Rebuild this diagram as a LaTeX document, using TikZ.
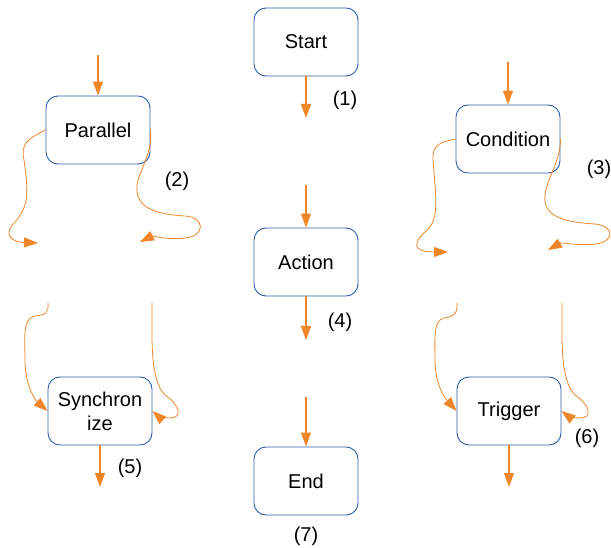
\documentclass[tikz,border=0pt]{standalone}
\usepackage{fontspec}
\setmainfont{Liberation Sans}
\usetikzlibrary{arrows.meta,positioning}
\definecolor{flowor}{RGB}{240,134,42}
\definecolor{boxblue}{RGB}{48,92,168}

\begin{document}
\begin{tikzpicture}[x=1pt,y=-1pt,node distance=1.0cm,on grid,
				block/.style={draw=boxblue, line width=0.9pt, rounded corners=12pt, minimum width=104pt, minimum height=68pt, align=center, font=\fontsize{20}{24}\selectfont},
				num/.style={font=\fontsize{20}{24}\selectfont},
				flow/.style={draw=flowor, line width=1.2pt, -{Triangle[length=14pt,width=10pt]}},
				wiggle/.style={draw=flowor, line width=0.8pt, -{Triangle[length=14pt,width=10pt]}}
			]
			\useasboundingbox (0,0) rectangle (611,548);
			
			\node[block] (start) at (306,42) {Start};
			\node[block] (action) [below=220pt of start] {Action};
			\node[block] (finish) [below=219pt of action] {End};
			
			\node[block] (par) at (98,130) {Parallel};
			\node[block] (sync) [below=281pt of par, xshift=2pt] {Synchron\\ize};
			
			\node[block] (cond) at (508,139) {Condition};
			\node[block] (trig) [below=272pt of cond, xshift=1pt] {Trigger};
			
			% free ends
			\coordinate (start-out) at (306,118);
			\coordinate (action-in) at (306,185);
			\coordinate (action-out) at (306,340);
			\coordinate (finish-in) at (306,397);
			\coordinate (par-in) at (98,55);
			\coordinate (cond-in) at (508,62);
			\coordinate (sync-out) at (100,487);
			\coordinate (trig-out) at (509,487);
			\coordinate (par-l) at (38,243);
			\coordinate (par-r) at (140,242);
			\coordinate (cond-l) at (448,252);
			\coordinate (cond-r) at (548,250);
			\coordinate (sync-l) at (48,303);
			\coordinate (sync-r) at (152,303);
			\coordinate (trig-l) at (457,303);
			\coordinate (trig-r) at (562,303);
			
			\draw[flow] (start.south) -- (start-out);
			\draw[flow] (action-in) -- (action.north);
			\draw[flow] (action.south) -- (action-out);
			\draw[flow] (finish-in) -- (finish.north);
			\draw[flow] (par-in) -- (par.north);
			\draw[flow] (cond-in) -- (cond.north);
			\draw[flow] (sync.south) -- (sync-out);
			\draw[flow] (trig.south) -- (trig-out);
			
			\draw[wiggle] (par.west) .. controls (30,138) and (20,142) .. (24,160) .. controls (28,190) and (30,205) .. (15,222) .. controls (2,235) and (12,242) .. (par-l);
			\draw[wiggle] (par.east) .. controls (152,150) and (145,160) .. (138,180) .. controls (132,205) and (150,214) .. (185,216) .. controls (205,217) and (206,236) .. (185,238) .. controls (168,240) and (152,236) .. (par-r);
			
			\draw[wiggle] (cond.west) .. controls (440,142) and (432,145) .. (433,160) .. controls (436,200) and (440,220) .. (425,232) .. controls (408,248) and (420,252) .. (cond-l);
			\draw[wiggle] (cond.east) .. controls (561,160) and (548,175) .. (545,195) .. controls (543,215) and (560,222) .. (595,224) .. controls (615,226) and (615,242) .. (595,244) .. controls (575,246) and (562,242) .. (cond-r);
			
			\draw[wiggle] (sync-l) .. controls (49,313) and (45,315) .. (35,316) .. controls (22,318) and (25,340) .. (25,360) .. controls (25,385) and (35,400) .. (sync.west);
			\draw[wiggle] (sync-r) .. controls (152,340) and (150,380) .. (165,395) .. controls (180,405) and (183,418) .. (170,418) .. controls (163,418) and (158,416) .. (sync.east);
			
			\draw[wiggle] (trig-l) .. controls (458,315) and (452,317) .. (444,318) .. controls (433,320) and (435,340) .. (435,360) .. controls (435,385) and (445,398) .. (trig.west);
			\draw[wiggle] (trig-r) .. controls (562,340) and (560,380) .. (575,395) .. controls (590,405) and (593,418) .. (580,418) .. controls (573,418) and (568,416) .. (trig.east);
			
			\node[num] (n1) at (345,100) {(1)};
			\node[num] (n2) at (177,181) {(2)};
			\node[num] (n3) at (599,169) {(3)};
			\node[num] (n4) at (340,322) {(4)};
			\node[num] (n5) at (130,468) {(5)};
			\node[num] (n6) at (587,438) {(6)};
			\node[num] (n7) at (306,536) {(7)};
		\end{tikzpicture}
\end{document}
